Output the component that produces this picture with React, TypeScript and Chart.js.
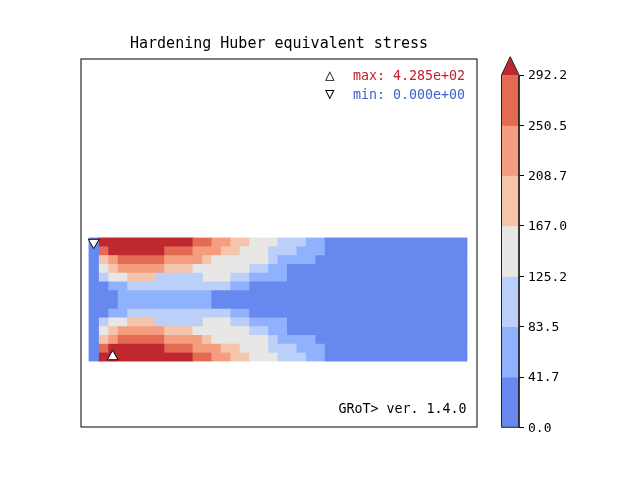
import { useEffect, useRef } from "react"
import { Chart, registerables } from "chart.js"

Chart.register(...registerables)

const title = "Hardening Huber equivalent stress"
const versionText = "GRoT> ver. 1.4.0"

// contour levels of the colour bar
const levelBounds = [0.0, 41.7, 83.5, 125.2, 167.0, 208.7, 250.5, 292.2]
// one colour per band, the last one is the "over" colour (> 292.2)
const levelColors = ["#6788ee", "#8fb1fe", "#bad0f8", "#e8e7e6", "#f5c4ad", "#f59d7e", "#e36a53", "#c0282f"]
const overTip = 307.4

// band index of every element, top row first, 40 elements per row
const stressRows = [
  "0777777777766554433322211000000000000000",
  "0677777766655544333222111000000000000000",
  "0456666655554333333211110000000000000000",
  "0345555544433333322110000000000000000000",
  "0233444222223332211110000000000000000000",
  "0011222222222221100000000000000000000000",
  "0001111111111000000000000000000000000000",
  "0001111111111000000000000000000000000000",
  "0011222222222221100000000000000000000000",
  "0233444222223332211110000000000000000000",
  "0345555544433333322110000000000000000000",
  "0456666655554333333211110000000000000000",
  "0677777766655544333222111000000000000000",
  "0777777777766554433322211000000000000000",
]

const maxValue = 428.5
const minValue = 0.0
const maxElement = { col: 2, row: 13 }
const minElement = { col: 0, row: 0 }

const nRows = stressRows.length

function sci(v: number) {
  const [m, e] = v.toExponential(3).split("e")
  const sign = e.startsWith("-") ? "-" : "+"
  return `${m}e${sign}${e.replace(/[+-]/, "").padStart(2, "0")}`
}

function rowSegments(row: string) {
  const segs: { level: number; start: number; end: number }[] = []
  let start = 0
  for (let c = 1; c <= row.length; c++) {
    if (c === row.length || row[c] !== row[start]) {
      segs.push({ level: Number(row[start]), start, end: c })
      start = c
    }
  }
  return segs
}

const centre = (el: { col: number; row: number }) => ({ x: el.col + 0.5, y: nRows - el.row - 0.5 })

const framePlugin = {
  id: "frame",
  afterDraw(chart: Chart) {
    const { ctx, chartArea } = chart
    ctx.save()
    ctx.strokeStyle = "#000"
    ctx.lineWidth = 1
    ctx.strokeRect(chartArea.left, chartArea.top, chartArea.right - chartArea.left, chartArea.bottom - chartArea.top)
    ctx.restore()
  },
}

export default function App() {
  const mainRef = useRef<HTMLCanvasElement>(null)
  const barRef = useRef<HTMLCanvasElement>(null)

  useEffect(() => {
    if (!mainRef.current || !barRef.current) return

    const bandSets = levelColors.map((color, level) => ({
      type: "bar" as const,
      label: `band ${level}`,
      indexAxis: "y" as const,
      data: stressRows.flatMap((row, r) =>
        rowSegments(row)
          .filter((s) => s.level === level)
          .map((s) => ({ x: [s.start, s.end], y: nRows - r - 0.5 }))
      ),
      backgroundColor: color,
      borderWidth: 0,
      grouped: false,
      barPercentage: 1,
      categoryPercentage: 1,
      inflateAmount: 0.4,
    }))

    const marker = (el: { col: number; row: number }, rotation: number) => ({
      type: "scatter" as const,
      indexAxis: "x" as const,
      data: [centre(el)],
      pointStyle: "triangle",
      pointRotation: rotation,
      pointRadius: 6.3,
      backgroundColor: "#fff",
      borderColor: "#000",
      borderWidth: 1,
    })

    const main = new Chart(mainRef.current, {
      type: "bar",
      data: {
        datasets: [marker(minElement, 180), marker(maxElement, 0), ...bandSets] as any,
      },
      options: {
        responsive: false,
        animation: false,
        layout: { padding: { left: 81, top: 59, right: 163, bottom: 53 } },
        plugins: { legend: { display: false }, tooltip: { enabled: false }, title: { display: false } },
        scales: {
          x: { type: "linear", display: false, offset: false, min: -0.847, max: 41.06 },
          y: { type: "linear", display: false, offset: false, min: -7.51, max: 34.37 },
        },
      },
      plugins: [framePlugin],
    })

    const barData = levelBounds.slice(0, -1).map((lo, i) => ({ x: 0, y: [lo, levelBounds[i + 1]] }))
    const top = levelBounds[levelBounds.length - 1]

    const colorbar = new Chart(barRef.current, {
      type: "bar",
      data: {
        datasets: [
          {
            type: "line",
            data: [
              { x: -0.5, y: 0 },
              { x: -0.5, y: top },
              { x: 0, y: overTip },
              { x: 0.5, y: top },
              { x: 0.5, y: 0 },
              { x: -0.5, y: 0 },
            ],
            borderColor: "#222",
            borderWidth: 1,
            pointRadius: 0,
            tension: 0,
            fill: false,
            clip: false,
          },
          {
            type: "line",
            data: [
              { x: -0.5, y: top },
              { x: 0, y: overTip },
              { x: 0.5, y: top },
            ],
            borderWidth: 0,
            borderColor: "rgba(0,0,0,0)",
            backgroundColor: levelColors[7],
            pointRadius: 0,
            tension: 0,
            fill: { value: top },
            clip: false,
          },
          {
            type: "bar",
            data: barData,
            backgroundColor: levelColors.slice(0, 7),
            borderWidth: 0,
            grouped: false,
            barPercentage: 1,
            categoryPercentage: 1,
            inflateAmount: 0.4,
          },
        ] as any,
      },
      options: {
        responsive: false,
        animation: false,
        layout: { padding: { left: 501.5, top: 56.7, right: 61, bottom: 52.7 } },
        plugins: { legend: { display: false }, tooltip: { enabled: false } },
        scales: {
          x: { type: "linear", display: false, offset: false, min: -0.5, max: 0.5 },
          y: {
            type: "linear",
            position: "right",
            offset: false,
            min: 0,
            max: overTip,
            afterFit: (scale: any) => {
              scale.width = 60
            },
            afterBuildTicks: (scale: any) => {
              scale.ticks = levelBounds.map((v) => ({ value: v }))
            },
            border: { display: false },
            grid: { drawOnChartArea: false, drawTicks: true, tickLength: 5, color: "#000", lineWidth: 1 },
            ticks: {
              padding: 4,
              labelOffset: 1,
              color: "#000",
              font: { family: "'DejaVu Sans Mono'", size: 13 },
              callback: (v: any) => Number(v).toFixed(1),
            },
          },
        },
      },
    })

    return () => {
      main.destroy()
      colorbar.destroy()
    }
  }, [])

  const mono = "'DejaVu Sans Mono', monospace"

  return (
    <div style={{ position: "fixed", left: 0, top: 0, width: 640, height: 480, background: "#fff", fontFamily: mono }}>
      <canvas ref={mainRef} width={640} height={480} style={{ position: "absolute", left: 0, top: 0 }} />
      <canvas ref={barRef} width={640} height={480} style={{ position: "absolute", left: 0, top: 0 }} />
      <div style={{ position: "absolute", left: 80, width: 398, top: 36, textAlign: "center", fontSize: 15, lineHeight: "15px", whiteSpace: "pre" }}>
        {title}
      </div>
      <div style={{ position: "absolute", left: 325, top: 67, fontSize: 16, lineHeight: "16px", color: "#000" }}>△</div>
      <div style={{ position: "absolute", left: 353, top: 68.7, fontSize: 13.3, lineHeight: "13.3px", color: "#c0202e", whiteSpace: "pre" }}>
        {`max: ${sci(maxValue)}`}
      </div>
      <div style={{ position: "absolute", left: 325, top: 86, fontSize: 16, lineHeight: "16px", color: "#000" }}>▽</div>
      <div style={{ position: "absolute", left: 353, top: 87.5, fontSize: 13.3, lineHeight: "13.3px", color: "#4060d0", whiteSpace: "pre" }}>
        {`min: ${sci(minValue)}`}
      </div>
      <div style={{ position: "absolute", right: 640 - 466.5, top: 402, fontSize: 13.3, lineHeight: "13.3px", color: "#000", whiteSpace: "pre" }}>
        {versionText}
      </div>
    </div>
  )
}
